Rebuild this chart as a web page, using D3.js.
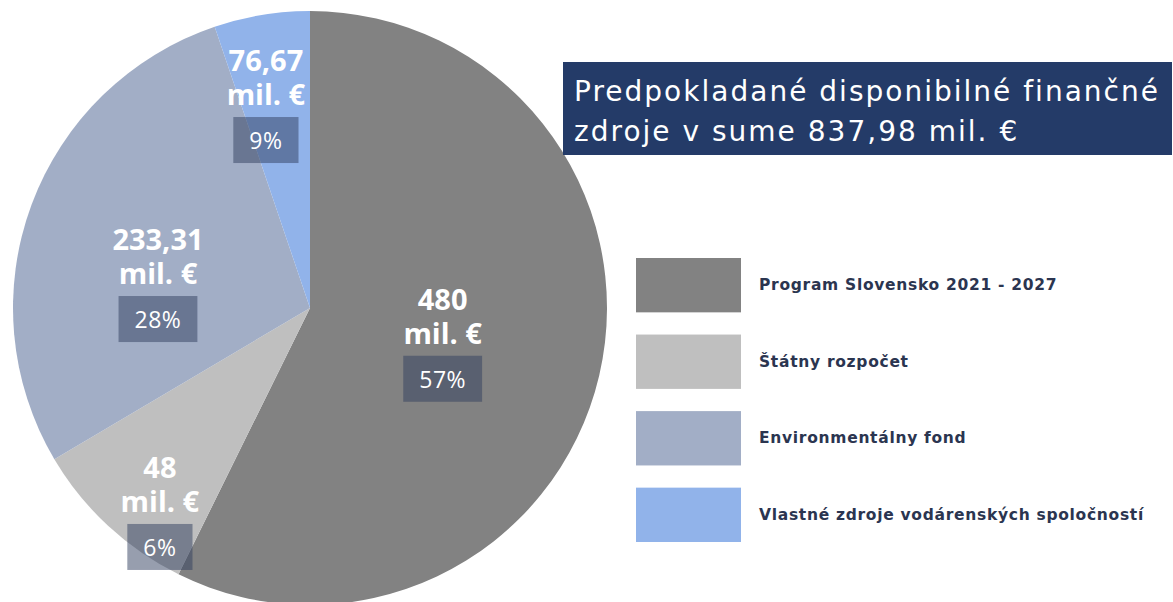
<!DOCTYPE html>
<html>
<head>
<meta charset="utf-8">
<script src="https://cdn.jsdelivr.net/npm/d3@7"></script>
<style>
  html,body{margin:0;padding:0;background:#fff;}
  svg{display:block;}
</style>
</head>
<body>
<svg id="chart" width="1173" height="602"></svg>
<script>
// sources of funding, clockwise from 12 o'clock
const categories=["Program Slovensko 2021 - 2027","Štátny rozpočet","Environmentálny fond","Vlastné zdroje vodárenských spoločností"];
const amountLabels=["480","48","233,31","76,67"];
const percentLabels=["57%","6%","28%","9%"];
// wedge sizes as they are drawn in the picture (% of circle) -- the
// original graphic does not draw 6% and 9% to scale
const drawnShares=[57.3,9.2,28.3,5.2];
const colors=["#828282","#bfbfbf","#a2aec6","#91b3ea"];
const titleLines=["Predpokladané disponibilné finančné","zdroje v sume 837,98 mil. €"];

const FONT="'Open Sans', sans-serif";
const WIDE="'DejaVu Sans', sans-serif";
const svg=d3.select("#chart");

const cx=310, cy=308, R=297;

const pie=d3.pie().sort(null).value(d=>d);
const arc=d3.arc().innerRadius(0).outerRadius(R);
const arcs=pie(drawnShares);

const g=svg.append("g").attr("transform",`translate(${cx},${cy})`);
g.selectAll("path.slice").data(arcs).join("path").attr("class","slice")
  .attr("d",arc).attr("fill",(d,i)=>colors[i]);

// label anchors (angle deg clockwise from top, radius) -> top of % box
const labelPolar=[[109.8,141],[214.8,263],[274.5,152.5],[347,196]];

labelPolar.forEach(([a,r],i)=>{
  const [x,y]=d3.pointRadial(a*Math.PI/180,r);
  const lg=g.append("g").attr("transform",`translate(${x},${y})`);
  const amt=lg.append("text").attr("text-anchor","middle")
    .attr("fill","#fff").style("font-family",FONT).style("font-weight","700").style("font-size","29px");
  amt.append("tspan").attr("x",0).attr("y",-46).text(amountLabels[i]);
  amt.append("tspan").attr("x",0).attr("y",-12).text("mil. €");
  const box=lg.append("rect").attr("y",0).attr("height",46)
    .attr("fill","#2f3e5e").attr("opacity",0.5);
  const pt=lg.append("text").attr("x",0).attr("y",32).attr("text-anchor","middle")
    .attr("fill","#fff").style("font-family",FONT).style("font-size","23px")
    .style("letter-spacing","0.5px")
    .text(percentLabels[i]);
  const w=pt.node().getComputedTextLength()+32;
  box.attr("x",-w/2).attr("width",w);
});

// title box
svg.append("rect").attr("x",563).attr("y",62).attr("width",609).attr("height",93)
  .attr("fill","#243b68");
const titleTexts=titleLines.map((t,i)=>svg.append("text").attr("x",574).attr("y",101+i*40)
  .attr("fill","#fff").style("font-family",WIDE).style("font-size","28px")
  .text(t));
// fit the first line to the width it has in the original
{
  const n=titleLines[0].length;
  const ls=(586-titleTexts[0].node().getComputedTextLength())/n;
  titleTexts.forEach(t=>t.style("letter-spacing",ls+"px"));
}

// legend
const legend=svg.append("g").attr("transform","translate(636,258)");
const ly=d3.scaleBand().domain(categories).range([0,284]).paddingInner(0.29).paddingOuter(0);
legend.selectAll("rect").data(categories).join("rect")
  .attr("x",0).attr("y",d=>ly(d)).attr("width",105).attr("height",ly.bandwidth())
  .attr("fill",(d,i)=>colors[i]);
const legTexts=legend.selectAll("text").data(categories).join("text")
  .attr("x",123).attr("y",d=>ly(d)+ly.bandwidth()/2+5)
  .attr("fill","#2b3550").style("font-family",WIDE).style("font-weight","700").style("font-size","15.5px")
  .text(d=>d);
{
  const n=categories[3].length;
  const ls=(385-legTexts.nodes()[3].getComputedTextLength())/n;
  legTexts.style("letter-spacing",ls+"px");
}
</script>
</body>
</html>
